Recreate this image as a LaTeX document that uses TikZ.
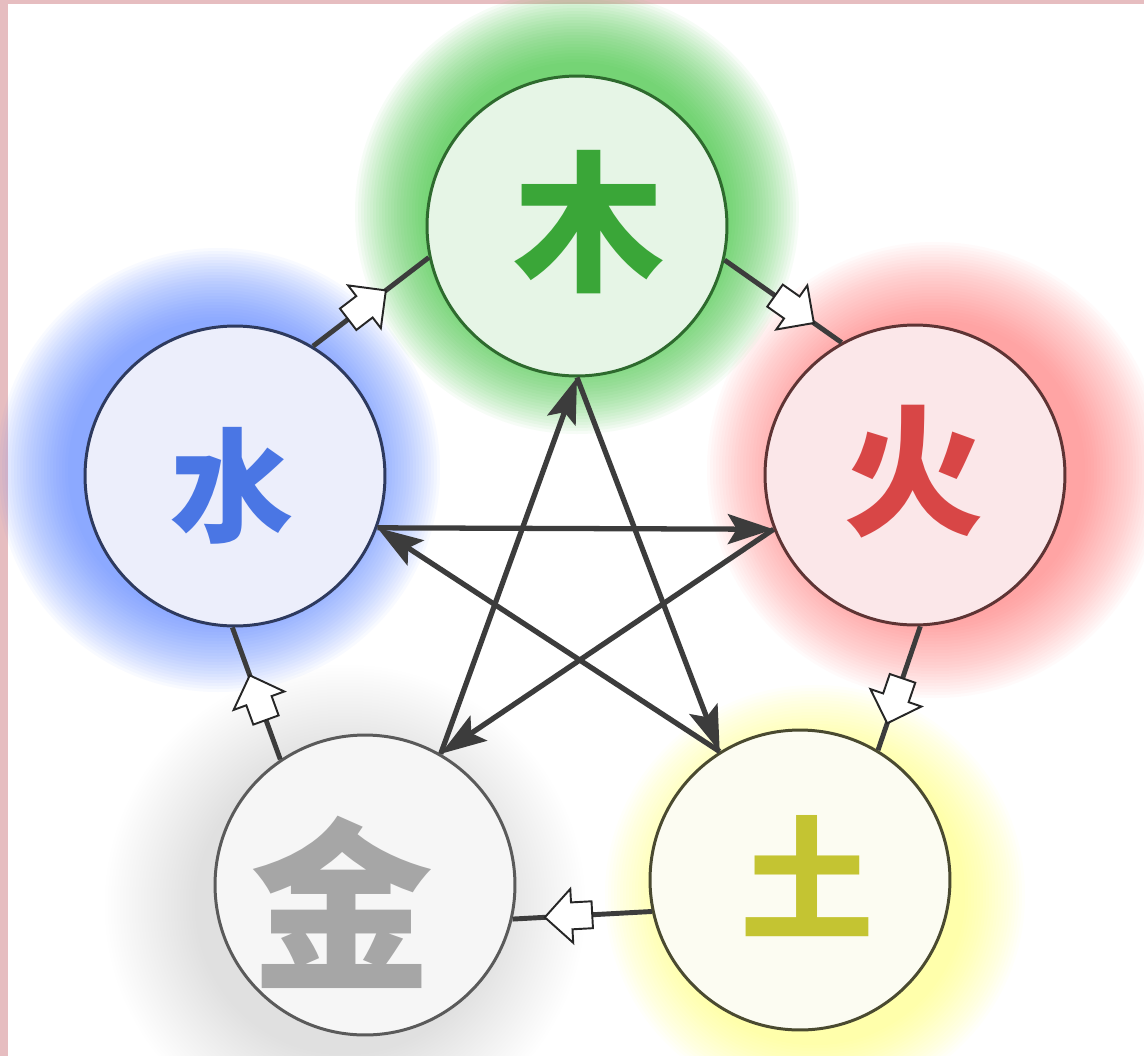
\documentclass[tikz,border=0pt]{standalone}
\usepackage{fontspec}
\newfontfamily\cjk{Noto Sans CJK SC}
\usetikzlibrary{shapes.arrows,arrows.meta}
\definecolor{pinkbg}{HTML}{E6BDC0}
\definecolor{woodfill}{HTML}{E6F5E6}
\definecolor{firefill}{HTML}{FBE7E9}
\definecolor{waterfill}{HTML}{ECEEFB}
\definecolor{earthfill}{HTML}{FCFCF2}
\definecolor{metalfill}{HTML}{F6F6F6}
\definecolor{woodline}{HTML}{2E6A2E}
\definecolor{fireline}{HTML}{5E3434}
\definecolor{waterline}{HTML}{2E3A5E}
\definecolor{earthline}{HTML}{4A4A30}
\definecolor{metalline}{HTML}{5A5A5A}
\definecolor{woodtxt}{HTML}{3AA638}
\definecolor{firetxt}{HTML}{D84646}
\definecolor{watertxt}{HTML}{4A76E4}
\definecolor{earthtxt}{HTML}{C4C432}
\definecolor{metaltxt}{HTML}{A6A6A6}
\definecolor{glowG}{HTML}{3CC83C}
\definecolor{glowR}{HTML}{FF6464}
\definecolor{glowB}{HTML}{4A7AFF}
\definecolor{glowY}{HTML}{FFFF50}
\definecolor{glowK}{HTML}{C8C8C8}
\definecolor{linecol}{HTML}{3C3C3C}
\newcommand\myglow[5]{\foreach \r in {150,153,...,#5}{\fill[#3,opacity=#4] (#1,#2) circle[radius=\r*0.02cm];}}
\begin{document}
\begin{tikzpicture}[x=0.02cm,y=-0.02cm,
  elem/.style={circle,minimum size=6cm,inner sep=0pt,line width=1.7pt},
  txt/.style={inner sep=0pt},
  ctrl/.style={draw=linecol,line width=3pt,-{Stealth[length=26pt,width=17pt,inset=5pt]}},
  gen/.style={draw=linecol,line width=2.8pt},
  genarrow/.style={single arrow,draw=black!85,fill=white,line width=1.1pt,minimum height=0.95cm,inner xsep=0pt,inner ysep=0.25cm,single arrow head extend=0.27cm,sloped,allow upside down}]
\useasboundingbox (0,0) rectangle (1144,1056);
\fill[pinkbg] (0,0) rectangle (1144,1056);
\fill[white] (8,4) rectangle (1144,1056);
% glows
\myglow{345}{905}{glowK}{0.011}{240}
\myglow{815}{895}{glowY}{0.026}{210}
\myglow{218}{470}{glowB}{0.034}{222}
\myglow{935}{470}{glowR}{0.027}{228}
\myglow{577}{212}{glowG}{0.042}{222}
% element circles
\node[elem,fill=woodfill,draw=woodline] (wood) at (577,226) {};
\node[elem,fill=firefill,draw=fireline] (fire) at (915,475) {};
\node[elem,fill=earthfill,draw=earthline] (earth) at (800,880) {};
\node[elem,fill=metalfill,draw=metalline] (metal) at (365,885) {};
\node[elem,fill=waterfill,draw=waterline] (water) at (235,476) {};
% characters
\node[txt,text=woodtxt,font=\cjk\bfseries\fontsize{86}{86}\selectfont] (woodT) at (589,222) {木};
\node[txt,text=firetxt,font=\cjk\bfseries\fontsize{80}{80}\selectfont] (fireT) at (914,472) {火};
\node[txt,text=watertxt,font=\cjk\bfseries\fontsize{70}{70}\selectfont] (waterT) at (232,486) {水};
\node[txt,text=earthtxt,font=\cjk\bfseries\fontsize{76}{76}\selectfont] (earthT) at (807,876) {土};
\node[txt,text=metaltxt,font=\cjk\bfseries\fontsize{104}{104}\selectfont] (metalT) at (342,902) {金};
% generating cycle
\draw[gen] (water.59) -- node[genarrow,pos=0.42] {} (wood.192);
\draw[gen] (wood.-13) -- node[genarrow,pos=0.55] {} (fire.119);
\draw[gen] (fire.-88) -- node[genarrow,pos=0.55] {} (earth.59);
\draw[gen] (earth.192) -- node[genarrow,pos=0.55] {} (metal.-13);
\draw[gen] (metal.124) -- node[genarrow,pos=0.42] {} (water.-91);
% controlling cycle
\draw[ctrl] (wood.-90) -- (earth.122);
\draw[ctrl] (earth.122) -- (water.-20);
\draw[ctrl] (water.-20) -- (fire.201);
\draw[ctrl] (fire.201) -- (metal.60);
\draw[ctrl] (metal.60) -- (wood.-90);
\end{tikzpicture}
\end{document}
